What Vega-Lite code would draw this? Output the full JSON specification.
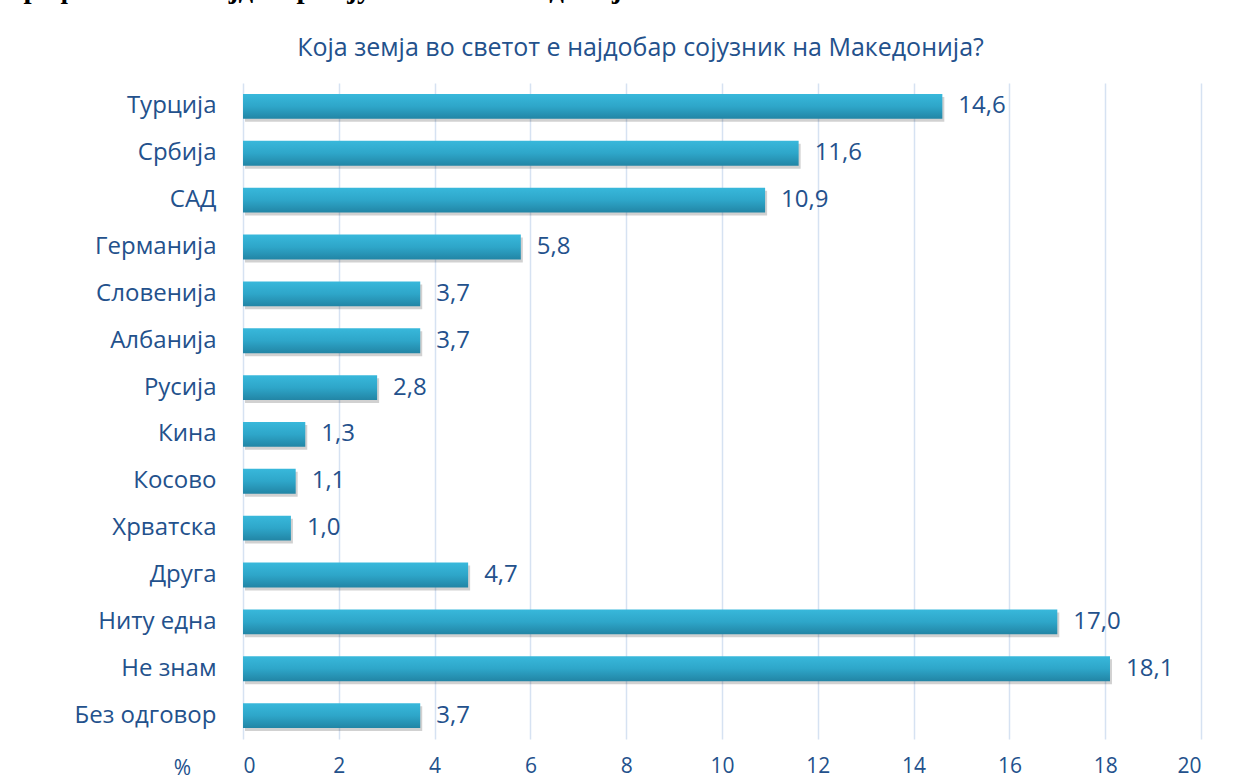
{
  "$schema": "https://vega.github.io/schema/vega-lite/v6.json",
  "autosize": {"type": "none"},
  "width": 958,
  "height": 656,
  "padding": {"left": 243, "top": 83, "right": 45, "bottom": 42},
  "background": "white",
  "config": {
    "locale": {"number": {"decimal": ",", "thousands": ".", "grouping": [3], "currency": ["", " €"]}},
    "view": {"stroke": null},
    "font": "Open Sans"
  },
  "title": {
    "text": "Графикон 13: Најдобар сојузник на Македонија",
    "font": "Liberation Serif",
    "fontSize": 29,
    "fontWeight": "bold",
    "color": "#000000",
    "anchor": "start",
    "frame": "group",
    "baseline": "alphabetic",
    "dx": -236,
    "offset": 8
  },
  "data": {
    "values": [
      {"country": "Турција", "pct": 14.6},
      {"country": "Србија", "pct": 11.6},
      {"country": "САД", "pct": 10.9},
      {"country": "Германија", "pct": 5.8},
      {"country": "Словенија", "pct": 3.7},
      {"country": "Албанија", "pct": 3.7},
      {"country": "Русија", "pct": 2.8},
      {"country": "Кина", "pct": 1.3},
      {"country": "Косово", "pct": 1.1},
      {"country": "Хрватска", "pct": 1.0},
      {"country": "Друга", "pct": 4.7},
      {"country": "Ниту една", "pct": 17.0},
      {"country": "Не знам", "pct": 18.1},
      {"country": "Без одговор", "pct": 3.7}
    ]
  },
  "resolve": {"axis": {"x": "independent"}},
  "encoding": {
    "y": {
      "field": "country",
      "type": "nominal",
      "sort": null,
      "scale": {"paddingInner": 0.47, "paddingOuter": 0.235},
      "axis": {
        "title": null,
        "domain": false,
        "ticks": false,
        "labelFont": "Open Sans",
        "labelFontSize": 24,
        "labelColor": "#23518c",
        "labelPadding": 27
      }
    }
  },
  "layer": [
    {
      "mark": {"type": "bar", "color": "#000000", "opacity": 0.18, "xOffset": 2, "yOffset": 3},
      "encoding": {
        "x": {
          "field": "pct",
          "type": "quantitative",
          "scale": {"domain": [0, 20], "nice": false},
          "axis": {
            "orient": "top",
            "labels": false,
            "ticks": false,
            "domain": false,
            "grid": false,
            "title": "Која земја во светот е најдобар сојузник на Македонија?",
            "titleFont": "Open Sans",
            "titleFontSize": 25,
            "titleFontWeight": "normal",
            "titleColor": "#23518c",
            "titleAlign": "center",
            "titleBaseline": "middle",
            "titleX": 397,
            "titleY": -36
          }
        }
      }
    },
    {
      "mark": {
        "type": "bar",
        "color": {
          "gradient": "linear",
          "x1": 0, "y1": 0, "x2": 0, "y2": 1,
          "stops": [
            {"offset": 0, "color": "#38b8db"},
            {"offset": 0.5, "color": "#2ea6c9"},
            {"offset": 1, "color": "#2285a5"}
          ]
        }
      },
      "encoding": {
        "x": {
          "field": "pct",
          "type": "quantitative",
          "scale": {"domain": [0, 20], "nice": false},
          "axis": {
            "orient": "bottom",
            "values": [0, 2, 4, 6, 8, 10, 12, 14, 16, 18, 20],
            "domain": false,
            "ticks": false,
            "grid": true,
            "gridColor": "#d6e2f2",
            "gridWidth": 1.5,
            "labelFont": "Open Sans",
            "labelFontSize": 21,
            "labelColor": "#23518c",
            "labelPadding": 16,
            "title": "%",
            "titleFont": "Open Sans",
            "titleFontSize": 21,
            "titleFontWeight": "normal",
            "titleColor": "#23518c",
            "titleX": -61,
            "titleY": 29,
            "titleAlign": "center",
            "titleBaseline": "middle"
          }
        }
      }
    },
    {
      "mark": {"type": "text", "align": "left", "baseline": "middle", "dx": 16, "font": "Open Sans", "fontSize": 24, "color": "#23518c"},
      "encoding": {
        "x": {"field": "pct", "type": "quantitative", "scale": {"domain": [0, 20], "nice": false}, "axis": null},
        "text": {"field": "pct", "type": "quantitative", "format": ".1f"}
      }
    }
  ]
}
